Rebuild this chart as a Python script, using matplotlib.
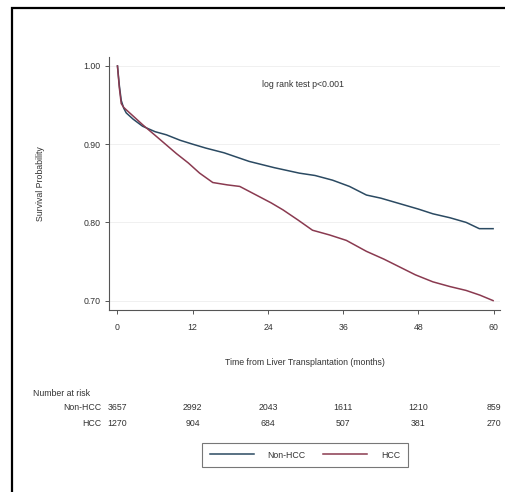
import matplotlib
matplotlib.use("Agg")
import matplotlib.pyplot as plt
from matplotlib.patches import Rectangle

# ---- data ----
nonhcc_t = [0, 0.3, 0.6, 1.0, 1.4, 2.5, 4.0, 6.0, 7.8, 10, 12, 14.1, 17, 21, 25, 29, 31.5, 34.3, 37, 39.7, 42, 45, 48, 50.3, 53, 55.6, 57.7, 59.9]
nonhcc_s = [1.00, 0.975, 0.956, 0.946, 0.940, 0.932, 0.923, 0.916, 0.912, 0.905, 0.900, 0.895, 0.889, 0.878, 0.870, 0.863, 0.860, 0.854, 0.846, 0.835, 0.831, 0.824, 0.817, 0.811, 0.806, 0.800, 0.792, 0.792]
hcc_t = [0, 0.3, 0.6, 1.0, 1.4, 2.5, 4.0, 6.2, 7.8, 9.4, 11.3, 13.1, 15.2, 17.5, 19.5, 22.6, 24.5, 26.4, 28.8, 31.1, 33.8, 36.5, 39.7, 42.5, 45, 47.5, 50.3, 53, 55.6, 57.8, 59.9]
hcc_s = [1.00, 0.972, 0.952, 0.947, 0.944, 0.936, 0.925, 0.910, 0.899, 0.888, 0.876, 0.863, 0.851, 0.848, 0.846, 0.833, 0.825, 0.816, 0.803, 0.790, 0.784, 0.777, 0.763, 0.753, 0.743, 0.733, 0.724, 0.718, 0.713, 0.707, 0.700]

risk_times = [0, 12, 24, 36, 48, 60]
risk_nonhcc = [3657, 2992, 2043, 1611, 1210, 859]
risk_hcc = [1270, 904, 684, 507, 381, 270]

x_ticks = [0, 12, 24, 36, 48, 60]
y_ticks = [0.70, 0.80, 0.90, 1.00]
y_ticklabels = ["0.70", "0.80", "0.90", "1.00"]

plt.rcParams["font.family"] = ["Liberation Sans", "DejaVu Sans"]

c_non = "#2b4a62"
c_hcc = "#8a3a50"
gray = "#555555"
tc = "#333333"
fs = 6.3

W, H = 505, 492
fig = plt.figure(figsize=(W / 100, H / 100), dpi=100)
fig.patch.set_facecolor("white")

ax = fig.add_axes([109 / W, 1 - 310 / H, (500 - 109) / W, (310 - 57) / H])
ax.plot(nonhcc_t, nonhcc_s, color=c_non, lw=1.1, label="Non-HCC")
ax.plot(hcc_t, hcc_s, color=c_hcc, lw=1.1, label="HCC")

ax.set_xlim(-1.35, 61)
ax.set_ylim(0.688, 1.0115)
ax.set_xticks(x_ticks)
ax.set_yticks(y_ticks)
ax.set_yticklabels(y_ticklabels)
for s in ["top", "right"]:
    ax.spines[s].set_visible(False)
for s in ["left", "bottom"]:
    ax.spines[s].set_color(gray)
    ax.spines[s].set_linewidth(0.8)
ax.tick_params(axis="both", colors=gray, labelcolor=tc, labelsize=fs,
               length=3, width=0.7, direction="out", pad=3)
ax.tick_params(axis="x", pad=6)
ax.grid(axis="y", color="#eeeeee", lw=0.6)
ax.set_axisbelow(True)

ax.set_ylabel("Survival Probability", fontsize=fs, color=tc, labelpad=28)
ax.set_xlabel("Time from Liver Transplantation (months)", fontsize=fs, color=tc, labelpad=19)
ax.text(0.495, 0.89, "log rank test p<0.001", transform=ax.transAxes,
        fontsize=fs, color=tc, ha="center", va="center")

# number at risk
trans = ax.get_xaxis_transform()
fig.text(33 / W, 1 - 393 / H, "Number at risk", fontsize=fs, color=tc, ha="left", va="center")
fig.text(101 / W, 1 - 408 / H, "Non-HCC", fontsize=fs, color=tc, ha="right", va="center")
fig.text(101 / W, 1 - 423 / H, "HCC", fontsize=fs, color=tc, ha="right", va="center")
y_non = (1 - 408 / H - (1 - 310 / H)) / ((310 - 57) / H)
y_hcc = (1 - 423 / H - (1 - 310 / H)) / ((310 - 57) / H)
for t, a, b in zip(risk_times, risk_nonhcc, risk_hcc):
    ax.text(t, y_non, str(a), transform=trans, fontsize=fs, color=tc,
            ha="center", va="center", clip_on=False)
    ax.text(t, y_hcc, str(b), transform=trans, fontsize=fs, color=tc,
            ha="center", va="center", clip_on=False)

# legend
leg = fig.legend(loc="center", bbox_to_anchor=(305 / W, 1 - 455 / H), ncol=2,
                 fontsize=fs, frameon=True, fancybox=False, handlelength=5.0,
                 columnspacing=2.0, handletextpad=1.6, borderpad=0.9)
leg.get_frame().set_edgecolor(gray)
leg.get_frame().set_linewidth(0.8)
for t in leg.get_texts():
    t.set_color(tc)

# outer frame
fig.add_artist(Rectangle((12 / W, -0.05), 1.1, 1 - 8 / H + 0.05, transform=fig.transFigure,
                         fill=False, edgecolor="black", lw=1.6))

fig.savefig("out.png", dpi=100)
